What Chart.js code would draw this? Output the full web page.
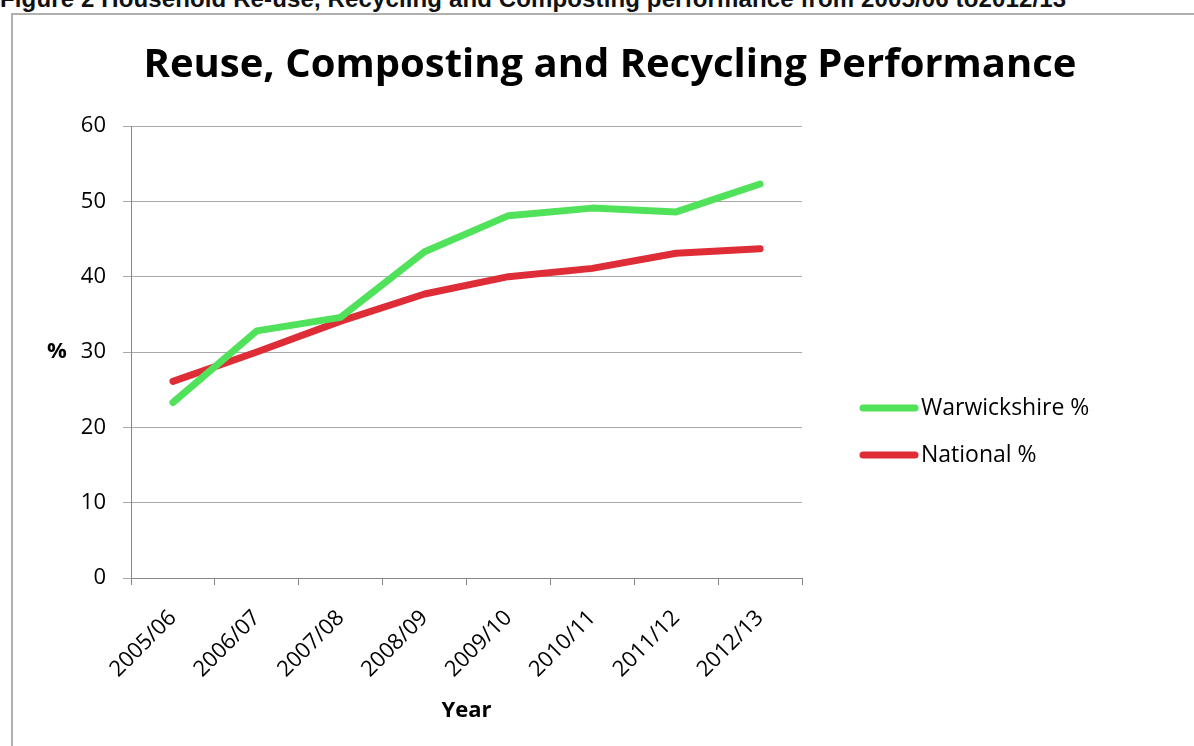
<!DOCTYPE html>
<html>
<head>
<meta charset="utf-8">
<script src="https://cdn.jsdelivr.net/npm/chart.js@4/dist/chart.umd.min.js"></script>
<style>
  html, body { margin: 0; padding: 0; background: #fff; overflow: hidden; }
  #wrap { position: relative; width: 1194px; height: 746px; }
  #caption {
    position: absolute; left: 0; top: -13px; white-space: nowrap; letter-spacing: 0.13px;
    font: bold 24px/24px "Liberation Sans", Arial, sans-serif; color: #111;
  }
  #frame {
    position: absolute; left: 11px; top: 13px; width: 1300px; height: 900px;
    border: 2px solid #b0b0b0; box-sizing: border-box;
  }
  canvas { position: absolute; left: 0; top: 0; }
</style>
</head>
<body>
<div id="wrap">
  <div id="caption">Figure 2 Household Re-use, Recycling and Composting performance from 2005/06 to2012/13</div>
  <div id="frame"></div>
  <canvas id="chart" width="1194" height="746"></canvas>
</div>
<script>
// Recycling rates by financial year
const years = ['2005/06', '2006/07', '2007/08', '2008/09', '2009/10', '2010/11', '2011/12', '2012/13'];
const warwickshire = [23.3, 32.8, 34.6, 43.3, 48.1, 49.1, 48.6, 52.3];
const national = [26.1, 30.0, 34.1, 37.7, 40.0, 41.1, 43.1, 43.7];
const yTicks = [0, 10, 20, 30, 40, 50, 60];

const chartTitle = 'Reuse, Composting and Recycling Performance';
const labelFont = { family: '"Open Sans", sans-serif', size: 22 };
const axisGrey = '#868686';
const gridGrey = '#a9a9a9';

// Draws the heading, the horizontal "%" axis caption and a line-sample legend
const sideText = {
  id: 'sideText',
  afterDraw(chart) {
    const { ctx, chartArea } = chart;
    ctx.save();
    ctx.fillStyle = '#000';

    ctx.font = 'bold 40px "Open Sans", sans-serif';
    ctx.textAlign = 'center';
    ctx.textBaseline = 'alphabetic';
    ctx.fillText(chartTitle, 610, chartArea.top - 49);

    ctx.font = 'bold 22px "Open Sans", sans-serif';
    ctx.textBaseline = 'middle';
    ctx.fillText('%', chartArea.left - 74, chart.scales.y.getPixelForValue(30));

    ctx.font = '23px "Open Sans", sans-serif';
    ctx.textAlign = 'left';
    const x0 = chartArea.right + 61;
    chart.data.datasets.forEach((ds, i) => {
      const y = 408 + i * 47;
      ctx.strokeStyle = ds.borderColor;
      ctx.lineWidth = 7;
      ctx.lineCap = 'round';
      ctx.beginPath();
      ctx.moveTo(x0, y);
      ctx.lineTo(x0 + 52, y);
      ctx.stroke();
      ctx.fillText(ds.label, x0 + 58, y);
    });
    ctx.restore();
  }
};

new Chart(document.getElementById('chart'), {
  type: 'line',
  data: {
    labels: years,
    datasets: [
      { label: 'Warwickshire %', data: warwickshire, borderColor: '#50e25a', backgroundColor: '#50e25a' },
      { label: 'National %', data: national, borderColor: '#de2d36', backgroundColor: '#de2d36' }
    ]
  },
  options: {
    responsive: false,
    animation: false,
    devicePixelRatio: 1,
    layout: { padding: { left: 12, right: 392, top: 126, bottom: 15 } },
    elements: {
      line: { borderWidth: 7, tension: 0, borderCapStyle: 'round', borderJoinStyle: 'round' },
      point: { radius: 0, hoverRadius: 0 }
    },
    plugins: {
      legend: { display: false },
      tooltip: { enabled: false },
      title: { display: false }
    },
    scales: {
      x: {
        offset: true,
        grid: { offset: true, drawOnChartArea: false, drawTicks: true, tickLength: 7, color: axisGrey },
        border: { color: axisGrey, width: 1 },
        ticks: { color: '#000', font: labelFont, minRotation: 45, maxRotation: 45, padding: 20 },
        title: { display: true, text: 'Year', color: '#000',
                 font: { family: '"Open Sans", sans-serif', size: 22, weight: 'bold', lineHeight: 1.2 },
                 padding: { top: 0, bottom: 7 } },
        afterFit(scale) { scale.height = 153; }
      },
      y: {
        min: 0, max: 60,
        afterBuildTicks(scale) { scale.ticks = yTicks.map(v => ({ value: v })); },
        grid: { color: gridGrey, drawTicks: true, tickLength: 8 },
        border: { color: axisGrey, width: 1 },
        ticks: { color: '#000', font: labelFont, padding: 17 },
        afterFit(scale) { scale.width = 119; }
      }
    }
  },
  plugins: [sideText]
});
</script>
</body>
</html>
